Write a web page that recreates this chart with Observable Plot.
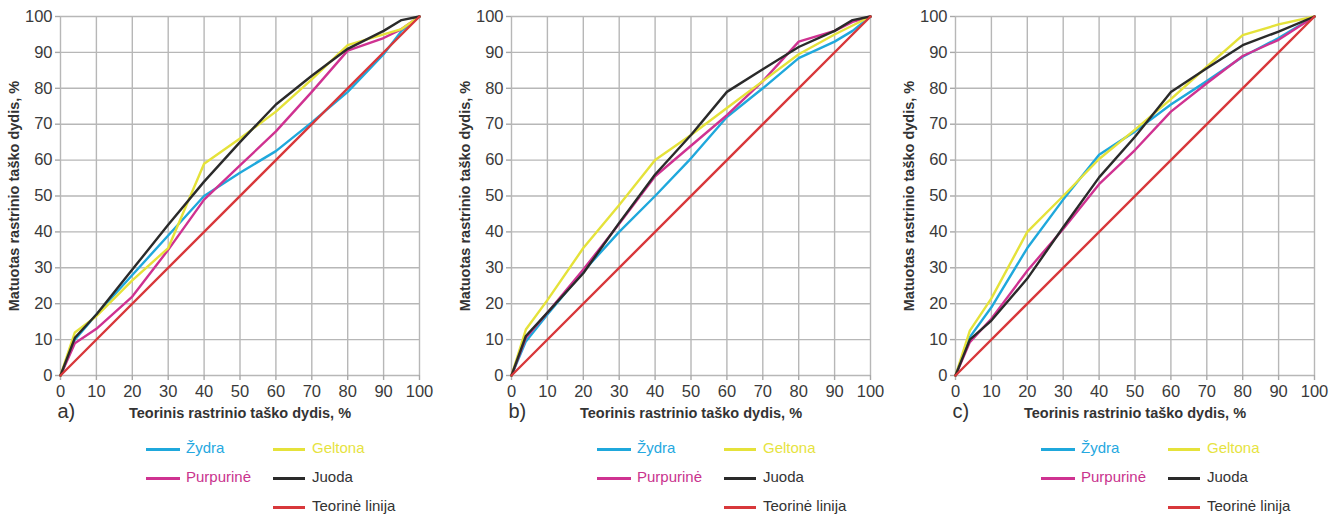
<!DOCTYPE html>
<html>
<head>
<meta charset="utf-8">
<script src="https://cdn.jsdelivr.net/npm/d3@7"></script>
<script src="https://cdn.jsdelivr.net/npm/@observablehq/plot@0.6"></script>
<style>
  html, body { margin: 0; padding: 0; background: #fff; }
  body { width: 1338px; height: 518px; position: relative; overflow: hidden;
         font-family: "Liberation Sans Narrow", "Arial Narrow", "Liberation Sans", Arial, sans-serif; }
  .panel { position: absolute; top: 0; }
  .leg-sw { position: absolute; height: 3px; }
  .leg-tx { position: absolute; font-size: 15px; line-height: 20px; white-space: nowrap; }
</style>
</head>
<body>
<script>
// ---- data ----
const ticks = [0, 10, 20, 30, 40, 50, 60, 70, 80, 90, 100];
const xTitle = "Teorinis rastrinio taško dydis, %";
const yTitle = "Matuotas rastrinio taško dydis, %";
const panelTags = ["a)", "b)", "c)"];

const seriesNames = ["Žydra", "Geltona", "Purpurinė", "Juoda", "Teorinė linija"];
const lineColors = ["#1fa8dc", "#e5e23a", "#cf3291", "#2a2a2a", "#d8383b"];
const legendTextColors = ["#26a8df", "#e6e33f", "#c9338d", "#333333", "#333333"];

const teorX = [0, 100];
const teorY = [0, 100];

const xA = [0, 4, 10, 20, 30, 40, 50, 60, 70, 80, 90, 95, 100];
const zydraA = [0, 10, 17, 28, 39, 50, 56.5, 62.5, 70.5, 79, 89.5, 96, 100];
const geltonaA = [0, 12, 16.5, 26.5, 35.5, 59, 66, 73.5, 82.5, 92, 95, 96.5, 100];
const purpurineA = [0, 9, 13, 22, 35, 49, 58.5, 68, 79, 90.5, 94, 96.5, 100];
const juodaA = [0, 10.5, 17, 29.5, 42, 54, 65, 75.5, 83.5, 91, 96, 99, 100];

const xB = [0, 4, 10, 20, 30, 40, 50, 60, 70, 80, 90, 95, 100];
const zydraB = [0, 9.5, 17, 29, 40, 50, 60.5, 72, 80, 88.4, 93, 96, 100];
const geltonaB = [0, 12.8, 21, 35.5, 47.5, 60, 67, 74.5, 82, 89.5, 95, 97.5, 100];
const purpurineB = [0, 10.5, 17.5, 29.5, 42.3, 55.5, 64, 72.5, 82, 93, 96, 98.5, 100];
const juodaB = [0, 11, 17.5, 28.5, 42.5, 56, 67, 79, 85.3, 91.5, 96, 99, 100];

const xC = [0, 4, 10, 20, 30, 40, 50, 60, 70, 80, 90, 100];
const zydraC = [0, 10.7, 19, 35.5, 49, 61.5, 68, 75.5, 82, 88.8, 94, 100];
const geltonaC = [0, 12.5, 21.5, 40, 50, 60.3, 68.5, 77, 86, 94.8, 97.8, 100];
const purpurineC = [0, 9.3, 15.8, 29.2, 40.8, 53.3, 62.8, 73.5, 81.4, 89, 93.5, 100];
const juodaC = [0, 10, 15.3, 27, 41.3, 55.2, 66.5, 79, 85.6, 92, 95.8, 100];

// ---- layout ----
const panelLefts = [0, 451, 895];
const panelWidths = [446, 446, 443];
const panels = [
  {xs: xA, ys: [zydraA, geltonaA, purpurineA, juodaA]},
  {xs: xB, ys: [zydraB, geltonaB, purpurineB, juodaB]},
  {xs: xC, ys: [zydraC, geltonaC, purpurineC, juodaC]}
];

const font = '"Liberation Sans Narrow", "Arial Narrow", "Liberation Sans", Arial, sans-serif';
const drawOrder = [0, 2, 1, 3]; // cyan, magenta, yellow, black; red last

panels.forEach((p, i) => {
  const lineMarks = drawOrder.map(s =>
    Plot.line(p.xs.map((x, k) => ({x, y: p.ys[s][k]})), {
      x: "x", y: "y", stroke: lineColors[s], strokeWidth: 2.4,
      strokeLinejoin: "round", strokeLinecap: "round"
    })
  );
  lineMarks.push(Plot.line(teorX.map((x, k) => ({x, y: teorY[k]})), {
    x: "x", y: "y", stroke: lineColors[4], strokeWidth: 2.4, strokeLinecap: "round"
  }));

  const chart = Plot.plot({
    width: panelWidths[i],
    height: 432,
    marginLeft: 60,
    marginRight: panelWidths[i] - 60 - 359,
    marginTop: 16,
    marginBottom: 57,
    style: {fontFamily: font, color: "#3a3a3a", background: "transparent", overflow: "visible"},
    x: {domain: [0, 100]},
    y: {domain: [0, 100]},
    marks: [
      Plot.gridX(ticks, {stroke: "#b7b7b7", strokeOpacity: 1, strokeWidth: 1.4}),
      Plot.gridY(ticks, {stroke: "#b7b7b7", strokeOpacity: 1, strokeWidth: 1.4}),
      Plot.axisX({ticks, tickSize: 5, tickPadding: 5, stroke: "#a8a8a8", strokeWidth: 1.4,
                  fontSize: 16.5, label: null}),
      Plot.axisY({ticks, tickSize: 5, tickPadding: 3, stroke: "#a8a8a8", strokeWidth: 1.4,
                  fontSize: 16.5, label: null}),
      ...lineMarks,
      Plot.text([xTitle], {text: d => d, frameAnchor: "bottom", dy: 42, fontSize: 14.5,
                           fontWeight: "bold", fill: "#333"}),
      Plot.text([yTitle], {text: d => d, frameAnchor: "left", textAnchor: "middle", dx: -46,
                           rotate: -90, fontSize: 14.5, fontWeight: "bold", fill: "#333"}),
      Plot.text([panelTags[i]], {text: d => d, frameAnchor: "bottom-left", textAnchor: "start",
                                 dx: -3, dy: 42, fontSize: 20, fill: "#333"})
    ]
  });

  const div = document.createElement("div");
  div.className = "panel";
  div.style.left = panelLefts[i] + "px";
  div.style.width = panelWidths[i] + "px";
  div.style.height = "518px";
  div.appendChild(chart);

  // legend (HTML, below the SVG)
  const slots = [
    {col: 0, row: 0}, {col: 1, row: 0},
    {col: 0, row: 1}, {col: 1, row: 1},
    {col: 1, row: 2}
  ];
  const swLeft = [146, 273], swW = [34, 32], txLeft = [186, 312];
  const rowCenter = [449, 478, 507];
  seriesNames.forEach((name, s) => {
    const {col, row} = slots[s];
    const sw = document.createElement("div");
    sw.className = "leg-sw";
    sw.style.left = swLeft[col] + "px";
    sw.style.width = swW[col] + "px";
    sw.style.top = (rowCenter[row] - 1.5) + "px";
    sw.style.background = lineColors[s];
    div.appendChild(sw);
    const tx = document.createElement("div");
    tx.className = "leg-tx";
    tx.style.left = txLeft[col] + "px";
    tx.style.top = (rowCenter[row] - 11) + "px";
    tx.style.color = legendTextColors[s];
    tx.textContent = name;
    div.appendChild(tx);
  });

  document.body.appendChild(div);
});
</script>
</body>
</html>
